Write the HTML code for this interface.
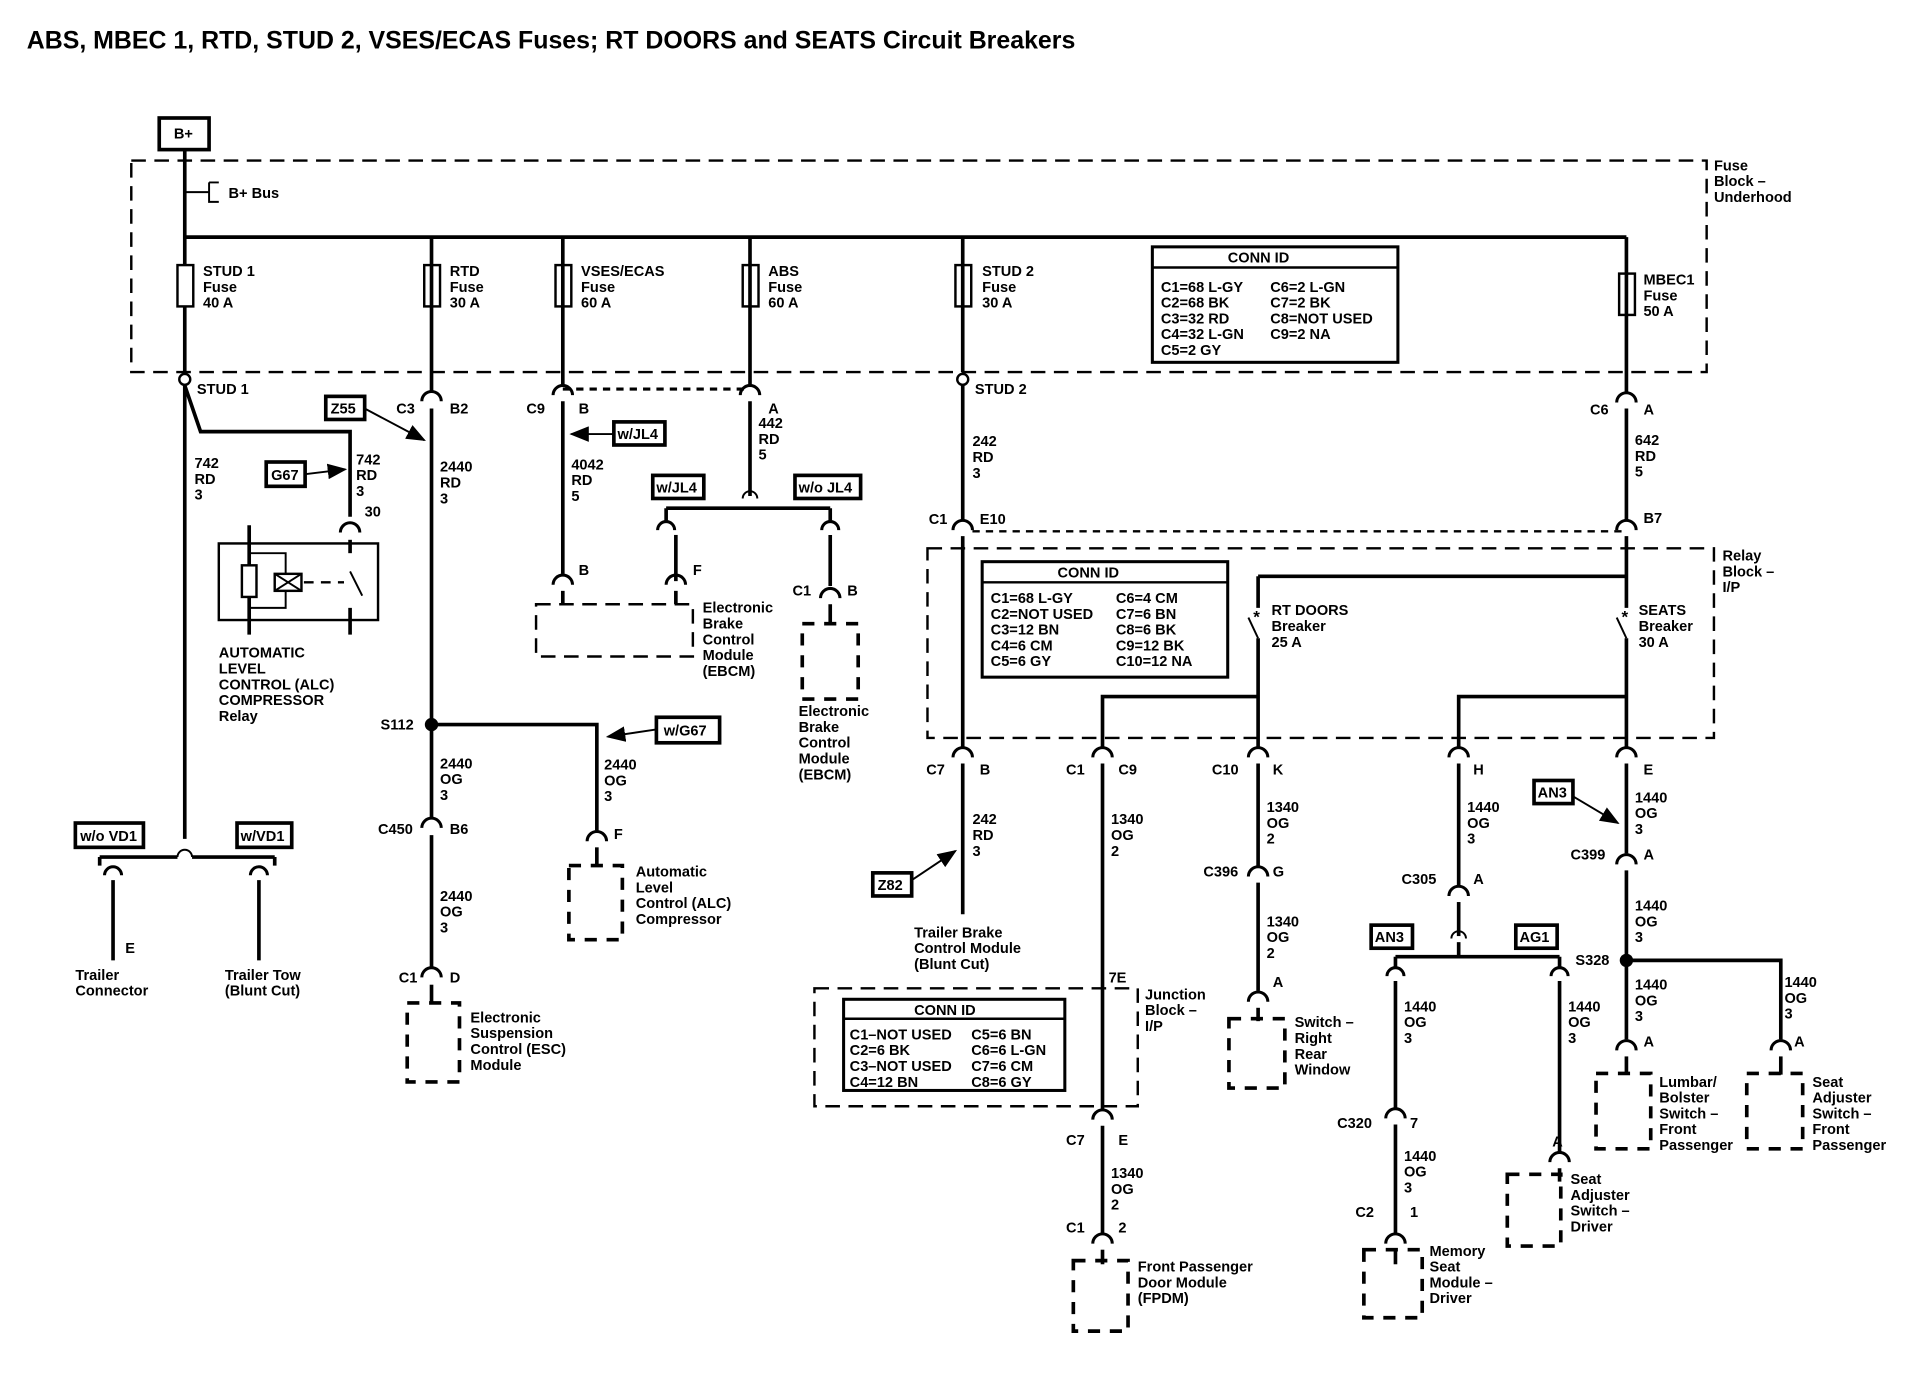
<!DOCTYPE html>
<html><head><meta charset="utf-8"><style>
html,body{margin:0;padding:0;background:#fff;}
svg{display:block;}
text{font-family:"Liberation Sans",sans-serif;font-size:12px;font-weight:bold;fill:#000;}
.w{stroke:#000;stroke-width:3;fill:none;}
.t{stroke:#000;stroke-width:1.6;fill:none;}
.d{stroke:#000;stroke-width:2;fill:none;stroke-dasharray:12,7;}
.db{stroke:#000;stroke-width:3;fill:none;stroke-dasharray:10,8;}
.c{stroke:#000;stroke-width:2.5;fill:none;}
</style></head><body>
<svg width="1906" height="1392" viewBox="0 0 1568 1145" xmlns="http://www.w3.org/2000/svg">
<defs>
<marker id="ar" markerWidth="10" markerHeight="8" refX="9" refY="4" orient="auto"><path d="M0,0 L10,4 L0,8 z" fill="#000"/></marker>
</defs>
<text x="22" y="40" style="font-size:20.5px">ABS, MBEC 1, RTD, STUD 2, VSES/ECAS Fuses; RT DOORS and SEATS Circuit Breakers</text>

<!-- B+ -->
<rect x="131" y="97" width="41" height="26" fill="none" stroke="#000" stroke-width="3"/>
<text x="143" y="114">B+</text>
<line class="w" x1="152" y1="123" x2="152" y2="306"/>
<line class="t" x1="152" y1="158" x2="172" y2="158"/>
<path class="t" d="M172,150 L180,150 M172,150 L172,166 L180,166"/>
<text x="188" y="163">B+ Bus</text>

<!-- fuse block -->
<rect x="108" y="132" width="1296" height="174" class="d"/>
<text x="1410" y="140">Fuse</text><text x="1410" y="153">Block –</text><text x="1410" y="166">Underhood</text>
<line class="w" x1="152" y1="195" x2="1338" y2="195"/>

<!-- fuses -->
<g fill="#fff" stroke="#000" stroke-width="2">
<rect x="146" y="218" width="13" height="34"/><rect x="349" y="218" width="13" height="34"/>
<rect x="457" y="218" width="13" height="34"/><rect x="611" y="218" width="13" height="34"/>
<rect x="786" y="218" width="13" height="34"/><rect x="1332" y="225" width="13" height="34"/>
</g>
<text x="167" y="227">STUD 1</text><text x="167" y="240">Fuse</text><text x="167" y="253">40 A</text>
<text x="370" y="227">RTD</text><text x="370" y="240">Fuse</text><text x="370" y="253">30 A</text>
<text x="478" y="227">VSES/ECAS</text><text x="478" y="240">Fuse</text><text x="478" y="253">60 A</text>
<text x="632" y="227">ABS</text><text x="632" y="240">Fuse</text><text x="632" y="253">60 A</text>
<text x="808" y="227">STUD 2</text><text x="808" y="240">Fuse</text><text x="808" y="253">30 A</text>
<text x="1352" y="234">MBEC1</text><text x="1352" y="247">Fuse</text><text x="1352" y="260">50 A</text>

<rect x="948" y="203" width="202" height="95" fill="none" stroke="#000" stroke-width="2.5"/>
<line x1="948" y1="220" x2="1150" y2="220" stroke="#000" stroke-width="2"/>
<text x="1010" y="216">CONN ID</text>
<text x="955" y="240">C1=68 L-GY</text><text x="1045" y="240">C6=2 L-GN</text>
<text x="955" y="253">C2=68 BK</text><text x="1045" y="253">C7=2 BK</text>
<text x="955" y="266">C3=32 RD</text><text x="1045" y="266">C8=NOT USED</text>
<text x="955" y="279">C4=32 L-GN</text><text x="1045" y="279">C9=2 NA</text>
<text x="955" y="292">C5=2 GY</text>

<!-- STUD 1 column -->
<circle cx="152" cy="312" r="4.5" fill="#fff" stroke="#000" stroke-width="2"/>
<text x="162" y="324">STUD 1</text>
<line class="w" x1="152" y1="317" x2="152" y2="690"/>
<polyline class="w" points="152,317 165,355 288,355 288,425"/>
<text x="160" y="385">742</text><text x="160" y="398">RD</text><text x="160" y="411">3</text>
<text x="293" y="382">742</text><text x="293" y="395">RD</text><text x="293" y="408">3</text>
<text x="300" y="425">30</text>
<rect x="219" y="380" width="32" height="20" fill="none" stroke="#000" stroke-width="3"/><text x="223" y="395">G67</text>
<line class="t" x1="251" y1="390" x2="284" y2="386" marker-end="url(#ar)"/>
<path class="c" d="M280,438 A8,8 0 0 1 296,438"/>
<line class="w" x1="288" y1="444" x2="288" y2="455"/>
<rect x="180" y="447" width="131" height="63" fill="none" stroke="#000" stroke-width="2"/>
<line class="w" x1="205" y1="432" x2="205" y2="522"/>
<line class="w" x1="288" y1="500" x2="288" y2="522"/>
<path class="t" d="M205,455 L235,455 L235,500 L205,500"/>
<rect x="199" y="465" width="12" height="26" fill="#fff" stroke="#000" stroke-width="2"/>
<rect x="226" y="472" width="22" height="14" fill="#fff" stroke="#000" stroke-width="2"/>
<path class="t" d="M226,472 L248,486 M248,472 L226,486"/>
<line x1="250" y1="479" x2="283" y2="479" stroke="#000" stroke-width="2" stroke-dasharray="8,6"/>
<line class="t" x1="288" y1="470" x2="298" y2="490"/>
<text x="180" y="541">AUTOMATIC</text><text x="180" y="554">LEVEL</text><text x="180" y="567">CONTROL (ALC)</text><text x="180" y="580">COMPRESSOR</text><text x="180" y="593">Relay</text>

<!-- VD1 -->
<rect x="62" y="677" width="56" height="20" fill="none" stroke="#000" stroke-width="3"/><text x="66" y="692">w/o VD1</text>
<rect x="195" y="677" width="45" height="20" fill="none" stroke="#000" stroke-width="3"/><text x="198" y="692">w/VD1</text>
<path class="w" d="M82,705 L146,705 M158,705 L226,705"/>
<path class="t" d="M146,705 A6,6 0 0 1 158,705"/>
<path class="w" d="M82,705 L82,712 M226,705 L226,712"/>
<path class="c" d="M86,720 A7,7 0 0 1 100,720"/><path class="c" d="M206,720 A7,7 0 0 1 220,720"/>
<line class="w" x1="93" y1="724" x2="93" y2="790"/><line class="w" x1="213" y1="724" x2="213" y2="790"/>
<text x="103" y="784">E</text>
<text x="62" y="806">Trailer</text><text x="62" y="819">Connector</text>
<text x="185" y="806">Trailer Tow</text><text x="185" y="819">(Blunt Cut)</text>

<!-- RTD column -->
<line class="w" x1="355" y1="195" x2="355" y2="322"/>
<path class="c" d="M347,330 A8,8 0 0 1 363,330"/>
<text x="326" y="340">C3</text><text x="370" y="340">B2</text>
<rect x="268" y="326" width="32" height="19" fill="none" stroke="#000" stroke-width="3"/><text x="272" y="340">Z55</text>
<line class="t" x1="300" y1="336" x2="349" y2="362" marker-end="url(#ar)"/>
<line class="w" x1="355" y1="336" x2="355" y2="672"/>
<text x="362" y="388">2440</text><text x="362" y="401">RD</text><text x="362" y="414">3</text>
<circle cx="355" cy="596" r="5.5" fill="#000"/>
<text x="313" y="600">S112</text>
<polyline class="w" points="355,596 491,596 491,683"/>
<text x="362" y="632">2440</text><text x="362" y="645">OG</text><text x="362" y="658">3</text>
<text x="497" y="633">2440</text><text x="497" y="646">OG</text><text x="497" y="659">3</text>
<rect x="540" y="590" width="52" height="21" fill="none" stroke="#000" stroke-width="3"/><text x="546" y="605">w/G67</text>
<line class="t" x1="540" y1="600" x2="500" y2="606" marker-end="url(#ar)"/>
<path class="c" d="M483,692 A8,8 0 0 1 499,692"/><line class="w" x1="491" y1="697" x2="491" y2="712"/>
<text x="505" y="690">F</text>
<rect x="468" y="712" width="44" height="61" class="db"/>
<text x="523" y="721">Automatic</text><text x="523" y="734">Level</text><text x="523" y="747">Control (ALC)</text><text x="523" y="760">Compressor</text>
<path class="c" d="M347,681 A8,8 0 0 1 363,681"/>
<text x="311" y="686">C450</text><text x="370" y="686">B6</text>
<line class="w" x1="355" y1="687" x2="355" y2="795"/>
<text x="362" y="741">2440</text><text x="362" y="754">OG</text><text x="362" y="767">3</text>
<path class="c" d="M347,804 A8,8 0 0 1 363,804"/>
<text x="328" y="808">C1</text><text x="370" y="808">D</text>
<line class="w" x1="355" y1="810" x2="355" y2="825"/>
<rect x="335" y="825" width="43" height="65" class="db"/>
<text x="387" y="841">Electronic</text><text x="387" y="854">Suspension</text><text x="387" y="867">Control (ESC)</text><text x="387" y="880">Module</text>

<!-- VSES column -->
<line class="w" x1="463" y1="195" x2="463" y2="316"/>
<path class="c" d="M455,325 A8,8 0 0 1 471,325"/>
<text x="433" y="340">C9</text><text x="476" y="340">B</text>
<line class="w" x1="463" y1="330" x2="463" y2="472"/>
<rect x="505" y="347" width="42" height="19" fill="none" stroke="#000" stroke-width="3"/><text x="508" y="361">w/JL4</text>
<line class="t" x1="505" y1="357" x2="470" y2="357" marker-end="url(#ar)"/>
<text x="470" y="386">4042</text><text x="470" y="399">RD</text><text x="470" y="412">5</text>
<line x1="463" y1="320" x2="617" y2="320" stroke="#000" stroke-width="2.5" stroke-dasharray="6,5"/>
<path class="c" d="M455,481 A8,8 0 0 1 471,481"/><line class="w" x1="463" y1="486" x2="463" y2="497"/>
<text x="476" y="473">B</text>
<rect x="441" y="497" width="129" height="43" class="d"/>
<path class="c" d="M548,481 A8,8 0 0 1 564,481"/><line class="w" x1="556" y1="486" x2="556" y2="497"/>
<text x="570" y="473">F</text>
<text x="578" y="504">Electronic</text><text x="578" y="517">Brake</text><text x="578" y="530">Control</text><text x="578" y="543">Module</text><text x="578" y="556">(EBCM)</text>

<!-- ABS column -->
<line class="w" x1="617" y1="195" x2="617" y2="316"/>
<path class="c" d="M609,325 A8,8 0 0 1 625,325"/>
<text x="632" y="340">A</text>
<line class="w" x1="617" y1="330" x2="617" y2="408"/>
<text x="624" y="352">442</text><text x="624" y="365">RD</text><text x="624" y="378">5</text>
<path class="t" d="M611,410 A6,6 0 0 1 623,410"/>
<path class="w" d="M548,418 L683,418 M548,418 L548,428 M683,418 L683,428"/>
<path class="c" d="M541,436 A7,7 0 0 1 555,436"/><path class="c" d="M676,436 A7,7 0 0 1 690,436"/>
<line class="w" x1="556" y1="440" x2="556" y2="478"/>
<line class="w" x1="683" y1="440" x2="683" y2="482"/>
<rect x="537" y="391" width="42" height="19" fill="none" stroke="#000" stroke-width="3"/><text x="540" y="405">w/JL4</text>
<rect x="654" y="391" width="54" height="19" fill="none" stroke="#000" stroke-width="3"/><text x="657" y="405">w/o JL4</text>
<path class="c" d="M675,492 A8,8 0 0 1 691,492"/><line class="w" x1="683" y1="497" x2="683" y2="513"/>
<text x="652" y="490">C1</text><text x="697" y="490">B</text>
<rect x="660" y="513" width="46" height="62" class="db"/>
<text x="657" y="589">Electronic</text><text x="657" y="602">Brake</text><text x="657" y="615">Control</text><text x="657" y="628">Module</text><text x="657" y="641">(EBCM)</text>

<!-- STUD 2 column -->
<line class="w" x1="792" y1="195" x2="792" y2="306"/>
<circle cx="792" cy="312" r="4.5" fill="#fff" stroke="#000" stroke-width="2"/>
<text x="802" y="324">STUD 2</text>
<line class="w" x1="792" y1="317" x2="792" y2="428"/>
<text x="800" y="367">242</text><text x="800" y="380">RD</text><text x="800" y="393">3</text>
<path class="c" d="M784,436 A8,8 0 0 1 800,436"/>
<text x="764" y="431">C1</text><text x="806" y="431">E10</text>
<line class="w" x1="792" y1="441" x2="792" y2="614"/>
<line x1="800" y1="437" x2="1338" y2="437" stroke="#000" stroke-width="2" stroke-dasharray="6,5"/>
<path class="c" d="M784,623 A8,8 0 0 1 800,623"/>
<text x="762" y="637">C7</text><text x="806" y="637">B</text>
<line class="w" x1="792" y1="628" x2="792" y2="752"/>
<text x="800" y="678">242</text><text x="800" y="691">RD</text><text x="800" y="704">3</text>
<rect x="718" y="718" width="32" height="19" fill="none" stroke="#000" stroke-width="3"/><text x="722" y="732">Z82</text>
<line class="t" x1="750" y1="724" x2="786" y2="700" marker-end="url(#ar)"/>
<text x="752" y="771">Trailer Brake</text><text x="752" y="784">Control Module</text><text x="752" y="797">(Blunt Cut)</text>

<!-- Relay block -->
<rect x="763" y="451" width="647" height="156" class="d"/>
<text x="1417" y="461">Relay</text><text x="1417" y="474">Block –</text><text x="1417" y="487">I/P</text>
<rect x="808" y="462" width="202" height="95" fill="none" stroke="#000" stroke-width="2.5"/>
<line x1="808" y1="479" x2="1010" y2="479" stroke="#000" stroke-width="2"/>
<text x="870" y="475">CONN ID</text>
<text x="815" y="496">C1=68 L-GY</text><text x="918" y="496">C6=4 CM</text>
<text x="815" y="509">C2=NOT USED</text><text x="918" y="509">C7=6 BN</text>
<text x="815" y="522">C3=12 BN</text><text x="918" y="522">C8=6 BK</text>
<text x="815" y="535">C4=6 CM</text><text x="918" y="535">C9=12 BK</text>
<text x="815" y="548">C5=6 GY</text><text x="918" y="548">C10=12 NA</text>

<!-- MBEC column -->
<line class="w" x1="1338" y1="195" x2="1338" y2="322"/>
<path class="c" d="M1330,331 A8,8 0 0 1 1346,331"/>
<text x="1308" y="341">C6</text><text x="1352" y="341">A</text>
<line class="w" x1="1338" y1="336" x2="1338" y2="428"/>
<text x="1345" y="366">642</text><text x="1345" y="379">RD</text><text x="1345" y="392">5</text>
<path class="c" d="M1330,436 A8,8 0 0 1 1346,436"/>
<text x="1352" y="430">B7</text>
<line class="w" x1="1338" y1="441" x2="1338" y2="500"/>
<line class="w" x1="1035" y1="474" x2="1338" y2="474"/>
<line class="w" x1="1035" y1="474" x2="1035" y2="500"/>
<line class="t" x1="1027" y1="508" x2="1035" y2="525"/>
<line class="t" x1="1330" y1="508" x2="1338" y2="525"/>
<text x="1031" y="512" style="font-size:14px">*</text><text x="1334" y="512" style="font-size:14px">*</text>
<line class="w" x1="1035" y1="525" x2="1035" y2="614"/>
<line class="w" x1="1338" y1="525" x2="1338" y2="614"/>
<text x="1046" y="506">RT DOORS</text><text x="1046" y="519">Breaker</text><text x="1046" y="532">25 A</text>
<text x="1348" y="506">SEATS</text><text x="1348" y="519">Breaker</text><text x="1348" y="532">30 A</text>
<polyline class="w" points="1035,573 907,573 907,614"/>
<polyline class="w" points="1338,573 1200,573 1200,614"/>

<!-- row connectors y=623 -->
<path class="c" d="M899,623 A8,8 0 0 1 915,623"/>
<path class="c" d="M1027,623 A8,8 0 0 1 1043,623"/>
<path class="c" d="M1192,623 A8,8 0 0 1 1208,623"/>
<path class="c" d="M1330,623 A8,8 0 0 1 1346,623"/>
<text x="877" y="637">C1</text><text x="920" y="637">C9</text>
<text x="997" y="637">C10</text><text x="1047" y="637">K</text>
<text x="1212" y="637">H</text><text x="1352" y="637">E</text>

<!-- 907 column -->
<line class="w" x1="907" y1="628" x2="907" y2="912"/>
<text x="914" y="678">1340</text><text x="914" y="691">OG</text><text x="914" y="704">2</text>
<rect x="670" y="813" width="266" height="97" class="d"/>
<text x="912" y="808">7E</text>
<text x="942" y="822">Junction</text><text x="942" y="835">Block –</text><text x="942" y="848">I/P</text>
<rect x="694" y="822" width="182" height="75" fill="none" stroke="#000" stroke-width="2.5"/>
<line x1="694" y1="838" x2="876" y2="838" stroke="#000" stroke-width="2"/>
<text x="752" y="835">CONN ID</text>
<text x="699" y="855">C1–NOT USED</text><text x="799" y="855">C5=6 BN</text>
<text x="699" y="868">C2=6 BK</text><text x="799" y="868">C6=6 L-GN</text>
<text x="699" y="881">C3–NOT USED</text><text x="799" y="881">C7=6 CM</text>
<text x="699" y="894">C4=12 BN</text><text x="799" y="894">C8=6 GY</text>
<path class="c" d="M899,921 A8,8 0 0 1 915,921"/>
<text x="877" y="942">C7</text><text x="920" y="942">E</text>
<line class="w" x1="907" y1="926" x2="907" y2="1014"/>
<text x="914" y="969">1340</text><text x="914" y="982">OG</text><text x="914" y="995">2</text>
<path class="c" d="M899,1023 A8,8 0 0 1 915,1023"/>
<text x="877" y="1014">C1</text><text x="920" y="1014">2</text>
<line class="w" x1="907" y1="1028" x2="907" y2="1040"/>
<rect x="883" y="1037" width="45" height="58" class="db"/>
<text x="936" y="1046">Front Passenger</text><text x="936" y="1059">Door Module</text><text x="936" y="1072">(FPDM)</text>

<!-- 1035 column -->
<line class="w" x1="1035" y1="628" x2="1035" y2="712"/>
<text x="1042" y="668">1340</text><text x="1042" y="681">OG</text><text x="1042" y="694">2</text>
<path class="c" d="M1027,721 A8,8 0 0 1 1043,721"/>
<text x="990" y="721">C396</text><text x="1047" y="721">G</text>
<line class="w" x1="1035" y1="726" x2="1035" y2="815"/>
<text x="1042" y="762">1340</text><text x="1042" y="775">OG</text><text x="1042" y="788">2</text>
<path class="c" d="M1027,824 A8,8 0 0 1 1043,824"/>
<text x="1047" y="812">A</text>
<line class="w" x1="1035" y1="829" x2="1035" y2="840"/>
<rect x="1011" y="838" width="46" height="57" class="db"/>
<text x="1065" y="845">Switch –</text><text x="1065" y="858">Right</text><text x="1065" y="871">Rear</text><text x="1065" y="884">Window</text>

<!-- 1200 column -->
<line class="w" x1="1200" y1="628" x2="1200" y2="728"/>
<text x="1207" y="668">1440</text><text x="1207" y="681">OG</text><text x="1207" y="694">3</text>
<path class="c" d="M1192,737 A8,8 0 0 1 1208,737"/>
<text x="1153" y="727">C305</text><text x="1212" y="727">A</text>
<line class="w" x1="1200" y1="742" x2="1200" y2="770"/>
<path class="t" d="M1194,772 A6,6 0 0 1 1206,772"/>
<path class="w" d="M1148,787 L1283,787 M1148,787 L1148,795 M1283,787 L1283,795"/>
<line class="w" x1="1200" y1="775" x2="1200" y2="787"/>
<rect x="1128" y="761" width="34" height="19" fill="none" stroke="#000" stroke-width="3"/><text x="1131" y="775">AN3</text>
<rect x="1247" y="761" width="34" height="19" fill="none" stroke="#000" stroke-width="3"/><text x="1250" y="775">AG1</text>
<path class="c" d="M1141,803 A7,7 0 0 1 1155,803"/><path class="c" d="M1276,803 A7,7 0 0 1 1290,803"/>
<line class="w" x1="1148" y1="807" x2="1148" y2="912"/>
<line class="w" x1="1283" y1="807" x2="1283" y2="948"/>
<text x="1155" y="832">1440</text><text x="1155" y="845">OG</text><text x="1155" y="858">3</text>
<text x="1290" y="832">1440</text><text x="1290" y="845">OG</text><text x="1290" y="858">3</text>
<path class="c" d="M1140,920 A8,8 0 0 1 1156,920"/>
<text x="1100" y="928">C320</text><text x="1160" y="928">7</text>
<line class="w" x1="1148" y1="925" x2="1148" y2="1014"/>
<text x="1155" y="955">1440</text><text x="1155" y="968">OG</text><text x="1155" y="981">3</text>
<path class="c" d="M1140,1023 A8,8 0 0 1 1156,1023"/>
<text x="1115" y="1001">C2</text><text x="1160" y="1001">1</text>
<line class="w" x1="1148" y1="1028" x2="1148" y2="1040"/>
<rect x="1122" y="1028" width="48" height="56" class="db"/>
<text x="1176" y="1033">Memory</text><text x="1176" y="1046">Seat</text><text x="1176" y="1059">Module –</text><text x="1176" y="1072">Driver</text>
<path class="c" d="M1275,956 A8,8 0 0 1 1291,956"/>
<text x="1277" y="943">A</text>
<line class="w" x1="1283" y1="961" x2="1283" y2="972"/>
<rect x="1240" y="966" width="44" height="59" class="db"/>
<text x="1292" y="974">Seat</text><text x="1292" y="987">Adjuster</text><text x="1292" y="1000">Switch –</text><text x="1292" y="1013">Driver</text>

<!-- 1338 column -->
<line class="w" x1="1338" y1="628" x2="1338" y2="702"/>
<text x="1345" y="660">1440</text><text x="1345" y="673">OG</text><text x="1345" y="686">3</text>
<rect x="1262" y="642" width="32" height="19" fill="none" stroke="#000" stroke-width="3"/><text x="1265" y="656">AN3</text>
<line class="t" x1="1294" y1="655" x2="1331" y2="677" marker-end="url(#ar)"/>
<path class="c" d="M1330,711 A8,8 0 0 1 1346,711"/>
<text x="1292" y="707">C399</text><text x="1352" y="707">A</text>
<line class="w" x1="1338" y1="716" x2="1338" y2="855"/>
<text x="1345" y="749">1440</text><text x="1345" y="762">OG</text><text x="1345" y="775">3</text>
<circle cx="1338" cy="790" r="5.5" fill="#000"/>
<text x="1296" y="794">S328</text>
<polyline class="w" points="1338,790 1465,790 1465,855"/>
<text x="1345" y="814">1440</text><text x="1345" y="827">OG</text><text x="1345" y="840">3</text>
<text x="1468" y="812">1440</text><text x="1468" y="825">OG</text><text x="1468" y="838">3</text>
<path class="c" d="M1330,864 A8,8 0 0 1 1346,864"/><line class="w" x1="1338" y1="869" x2="1338" y2="884"/>
<path class="c" d="M1457,864 A8,8 0 0 1 1473,864"/><line class="w" x1="1465" y1="869" x2="1465" y2="884"/>
<text x="1352" y="861">A</text><text x="1476" y="861">A</text>
<rect x="1313" y="883" width="45" height="62" class="db"/>
<rect x="1437" y="883" width="46" height="62" class="db"/>
<text x="1365" y="894">Lumbar/</text><text x="1365" y="907">Bolster</text><text x="1365" y="920">Switch –</text><text x="1365" y="933">Front</text><text x="1365" y="946">Passenger</text>
<text x="1491" y="894">Seat</text><text x="1491" y="907">Adjuster</text><text x="1491" y="920">Switch –</text><text x="1491" y="933">Front</text><text x="1491" y="946">Passenger</text>
</svg>
</body></html>
